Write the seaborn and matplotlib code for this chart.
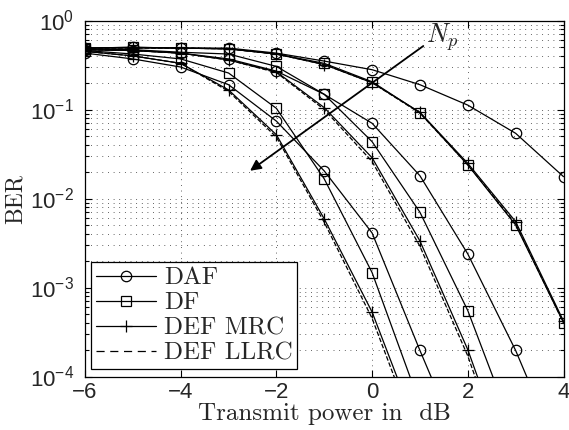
import numpy as np
import pandas as pd
import matplotlib
matplotlib.use("Agg")
import matplotlib.pyplot as plt
from matplotlib.lines import Line2D
from matplotlib.ticker import LogLocator, NullFormatter, FixedLocator
import seaborn as sns

nan = np.nan
snr_db = [-6, -5, -4, -3, -2, -1, 0, 1, 2, 3, 4]

# Right group (smallest N_p)
daf_r = [0.49, 0.50, 0.49, 0.49, 0.43, 0.35, 0.28, 0.19, 0.112, 0.054, 0.0176]
df_r = [0.49, 0.50, 0.49, 0.48, 0.42, 0.33, 0.205, 0.092, 0.0238, 0.00504, 0.000403]
mrc_r = [0.49, 0.49, 0.49, 0.48, 0.42, 0.32, 0.20, 0.093, 0.0248, 0.0055, 0.00042]
llrc_r = [0.49, 0.49, 0.49, 0.48, 0.42, 0.32, 0.20, 0.091, 0.0240, 0.0052, 0.00040]

# Middle group
daf_m = [0.47, 0.46, 0.43, 0.37, 0.27, 0.148, 0.070, 0.018, 0.00238, 0.000196, 1.05e-5]
df_m = [0.48, 0.47, 0.44, 0.42, 0.305, 0.148, 0.0435, 0.0070, 0.00055, 2.1e-5, nan]
mrc_m = [0.47, 0.46, 0.43, 0.36, 0.265, 0.105, 0.0287, 0.00333, 0.0002, 6.3e-6, nan]
llrc_m = [0.47, 0.46, 0.43, 0.36, 0.26, 0.10, 0.026, 0.0029, 0.00017, 5e-6, nan]

# Left group (largest N_p)
daf_l = [0.43, 0.37, 0.30, 0.19, 0.074, 0.0204, 0.0041, 0.000196, 1.05e-5, nan, nan]
df_l = [0.46, 0.42, 0.37, 0.257, 0.103, 0.0166, 0.00147, 4.9e-5, nan, nan, nan]
mrc_l = [0.45, 0.40, 0.33, 0.166, 0.052, 0.0059, 0.00053, 2.1e-5, nan, nan, nan]
llrc_l = [0.45, 0.40, 0.33, 0.16, 0.049, 0.0054, 0.00045, 1.7e-5, nan, nan, nan]

legend_labels = ["DAF", "DF", "DEF MRC", "DEF LLRC"]
x_ticks = [-6, -4, -2, 0, 2, 4]

sns.set_theme(style="white")
plt.rcParams["font.family"] = ["Liberation Sans", "DejaVu Sans"]
plt.rcParams["xtick.direction"] = "in"
plt.rcParams["ytick.direction"] = "in"

fig = plt.figure(figsize=(5.69, 4.30), dpi=100)
ax = fig.add_axes([85 / 569, 1 - 376.5 / 430, (563.5 - 85) / 569, (376.5 - 20.5) / 430])

styles = {
    "DAF": dict(marker="o", linestyle="-"),
    "DF": dict(marker="s", linestyle="-"),
    "DEF MRC": dict(marker="+", linestyle="-"),
    "DEF LLRC": dict(marker=None, linestyle="--"),
}
groups = [
    (daf_r, df_r, mrc_r, llrc_r),
    (daf_m, df_m, mrc_m, llrc_m),
    (daf_l, df_l, mrc_l, llrc_l),
]
lw = 0.9
ms = {"o": 7.5, "s": 6.5, "+": 8}


def line_kw(name):
    st = styles[name]
    kw = dict(color="black", linewidth=lw, linestyle=st["linestyle"])
    if st["marker"] is not None:
        kw.update(marker=st["marker"], markersize=ms[st["marker"]],
                  markerfacecolor="none", markeredgecolor="black", markeredgewidth=lw)
    if st["linestyle"] == "--":
        kw["dashes"] = (6.5, 4.5)
    return kw


for grp in groups:
    for name, vals in zip(legend_labels, grp):
        df = pd.DataFrame({"x": snr_db, "y": vals}).dropna()
        sns.lineplot(data=df, x="x", y="y", ax=ax, legend=False, **line_kw(name))

ax.set_yscale("log")
ax.set_xlim(-6, 4)
ax.set_ylim(1e-4, 1)
ax.xaxis.set_major_locator(FixedLocator(x_ticks))
ax.yaxis.set_major_locator(LogLocator(base=10, numticks=10))
ax.yaxis.set_minor_locator(LogLocator(base=10, subs=np.arange(2, 10), numticks=20))
ax.yaxis.set_minor_formatter(NullFormatter())
grid_ls = (0, (0.8, 5))
ax.grid(True, which="major", axis="both", linestyle=grid_ls, color="0.25", linewidth=0.7)
ax.grid(True, which="minor", axis="y", linestyle=grid_ls, color="0.25", linewidth=0.7)
ax.tick_params(which="both", top=True, right=True, bottom=True, left=True, labelsize=16,
               color="black", width=0.8)
ax.tick_params(which="major", length=5)
ax.tick_params(which="minor", length=3)
ax.tick_params(axis="x", pad=4)
ax.tick_params(axis="y", pad=8)
for s in ax.spines.values():
    s.set_color("black")
    s.set_linewidth(0.9)

ax.set_xlabel("Transmit power in  dB", fontfamily="cmr10", fontsize=18, labelpad=0)
ax.set_ylabel("BER", fontfamily="cmr10", fontsize=17, labelpad=2)

ax.annotate("", xy=(-2.55, 0.0205), xytext=(1.07, 0.517),
            arrowprops=dict(arrowstyle="-|>", color="black", lw=1.3, mutation_scale=16,
                            shrinkA=0, shrinkB=0))
ax.text(1.13, 0.66, r"$N_p$", fontsize=19, math_fontfamily="cm", ha="left", va="center")

handles = [Line2D([], [], **line_kw(name)) for name in legend_labels]
leg = ax.legend(handles, legend_labels, loc="lower left", bbox_to_anchor=(0.013, 0.02),
                prop={"family": "cmr10", "size": 18}, frameon=True, fancybox=False,
                edgecolor="black", framealpha=1, handlelength=2.4, handletextpad=0.3,
                labelspacing=0.1, borderpad=0.2, borderaxespad=0)
leg.get_frame().set_linewidth(0.9)

fig.savefig("out.png", dpi=100)
